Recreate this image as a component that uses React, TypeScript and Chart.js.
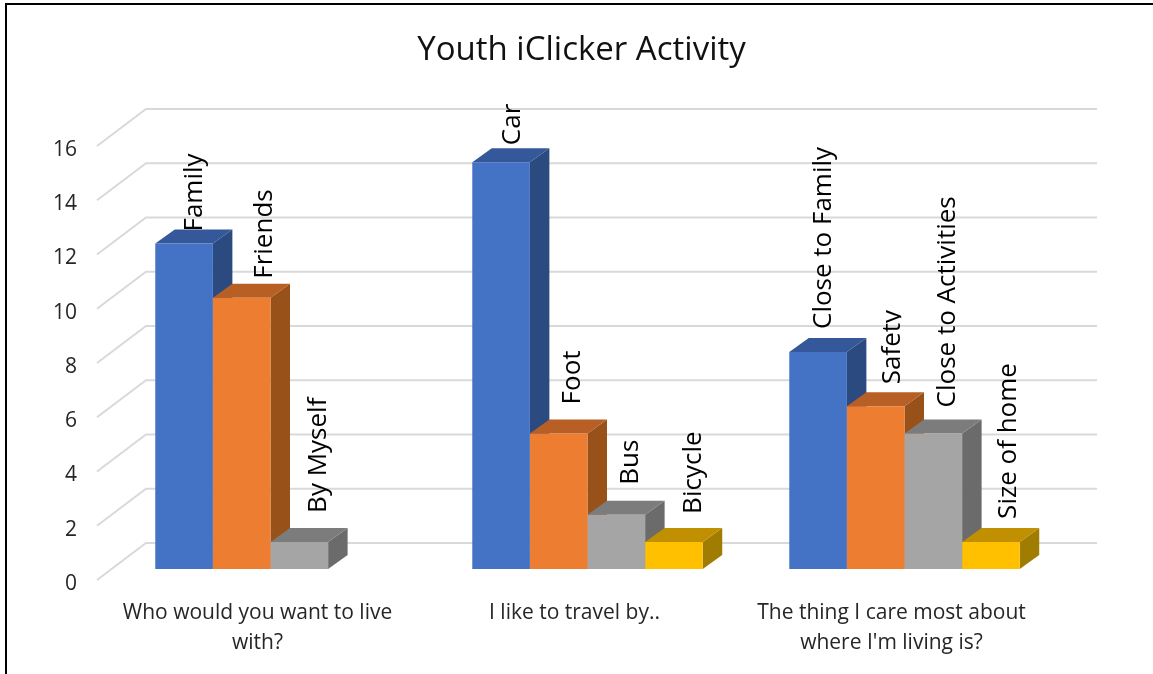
import React, { useEffect, useRef } from "react";
import { Chart, registerables } from "chart.js";

Chart.register(...registerables);

const categories = [
  ["Who would you want to live", "with?"],
  ["I like to travel by.."],
  ["The thing I care most about", "where I'm living is?"],
];
const firstChoice = [12, 15, 8];
const secondChoice = [10, 5, 6];
const thirdChoice = [1, 2, 5];
const fourthChoice = [null, 1, 1];
const firstNames = ["Family", "Car", "Close to Family"];
const secondNames = ["Friends", "Foot", "Safety"];
const thirdNames = ["By Myself", "Bus", "Close to Activities"];
const fourthNames = [null, "Bicycle", "Size of home"];

const valueSets = [firstChoice, secondChoice, thirdChoice, fourthChoice];
const nameSets = [firstNames, secondNames, thirdNames, fourthNames];
const fronts = ["#4472C4", "#ED7D31", "#A5A5A5", "#FFC000"];
const tops = ["#34589A", "#B85F26", "#7C7C7C", "#C09000"];
const sides = ["#2B4A80", "#985219", "#6B6B6B", "#A07D00"];

const FONT = '"Open Sans", sans-serif';
const DEPTH_X = 19.5;
const DEPTH_Y = 14;
// Label placement relative to each bar's top centre [dx, gap], by series then category.
const labelNudge = [
  [[11, 12], [12, 17], [6, 23]],
  [[23, 19], [14, 29], [16.5, 22]],
  [[19, 29], [14, 30], [14, 26]],
  [null, [20, 28], [18, 23]],
];
// In the reference the descender of this one label is cut off by its box.
const clippedLabel = "Safety";

const depthPlugin = {
  id: "depth",
  beforeDatasetsDraw(chart: any) {
    const { ctx, chartArea, scales } = chart;
    const y = scales.y;
    ctx.save();
    ctx.strokeStyle = "#D9D9D9";
    ctx.lineWidth = 2;
    y.ticks.forEach((t: any) => {
      const p = y.getPixelForValue(t.value);
      ctx.beginPath();
      ctx.moveTo(chartArea.left - 15, p + 11);
      ctx.lineTo(chartArea.left + 34, p - 26);
      ctx.lineTo(chartArea.right + 34, p - 26);
      ctx.stroke();
    });
    categories.forEach((_, j) => {
      valueSets.forEach((_v, i) => {
        const bar = chart.getDatasetMeta(i).data[j];
        if (valueSets[i][j] == null || !bar) return;
        const half = bar.width / 2;
        const l = bar.x - half;
        const r = bar.x + half;
        ctx.fillStyle = sides[i];
        ctx.beginPath();
        ctx.moveTo(r, bar.y);
        ctx.lineTo(r + DEPTH_X, bar.y - DEPTH_Y);
        ctx.lineTo(r + DEPTH_X, bar.base - DEPTH_Y);
        ctx.lineTo(r, bar.base);
        ctx.closePath();
        ctx.fill();
        ctx.fillStyle = tops[i];
        ctx.beginPath();
        ctx.moveTo(l, bar.y);
        ctx.lineTo(l + DEPTH_X, bar.y - DEPTH_Y);
        ctx.lineTo(r + DEPTH_X, bar.y - DEPTH_Y);
        ctx.lineTo(r, bar.y);
        ctx.closePath();
        ctx.fill();
      });
    });
    ctx.restore();
  },
  afterDatasetsDraw(chart: any) {
    const { ctx } = chart;
    ctx.save();
    ctx.fillStyle = "#000000";
    ctx.font = `26px ${FONT}`;
    ctx.textAlign = "left";
    ctx.textBaseline = "middle";
    nameSets.forEach((names, i) => {
      names.forEach((name, j) => {
        const bar = chart.getDatasetMeta(i).data[j];
        const nudge = labelNudge[i][j];
        if (!name || !bar || !nudge) return;
        ctx.save();
        ctx.translate(bar.x + nudge[0], bar.y - nudge[1]);
        ctx.rotate(-Math.PI / 2);
        if (name === clippedLabel) {
          ctx.beginPath();
          ctx.rect(-5, -40, 200, 49);
          ctx.clip();
        }
        ctx.fillText(name, 0, 0);
        ctx.restore();
      });
    });
    ctx.restore();
  },
};

export default function App() {
  const ref = useRef<HTMLCanvasElement>(null);
  useEffect(() => {
    const chart = new Chart(ref.current as HTMLCanvasElement, {
      type: "bar",
      data: {
        labels: categories as any,
        datasets: valueSets.map((data, i) => ({
          label: `Choice ${i + 1}`,
          data: data as any,
          backgroundColor: fronts[i],
          barPercentage: 1,
          categoryPercentage: 0.727,
        })),
      },
      options: {
        animation: false,
        responsive: false,
        layout: { padding: { left: 10, right: 0, top: 0, bottom: 0 } },
        plugins: {
          legend: { display: false },
          tooltip: { enabled: false },
          title: {
            display: true,
            text: "Youth iClicker Activity",
            color: "#111111",
            font: { family: FONT, size: 33, weight: "normal", lineHeight: 1.2 },
            padding: { top: 31, bottom: 64.4 },
          },
        },
        scales: {
          x: {
            border: { display: false },
            grid: { display: false, drawTicks: false },
            afterFit: (s: any) => { s.height = 105; },
            ticks: {
              color: "#262626",
              font: { family: FONT, size: 21, lineHeight: 1.43 },
              padding: 29,
              labelOffset: -13,
              maxRotation: 0,
              minRotation: 0,
              autoSkip: false,
            },
          },
          y: {
            min: 0,
            max: 16,
            border: { display: false },
            grid: { display: false, drawTicks: false },
            afterFit: (s: any) => { s.width = 102; },
            ticks: {
              stepSize: 2,
              color: "#262626",
              font: { family: FONT, size: 21 },
              padding: 35,
              labelOffset: 15,
            },
          },
          rightGutter: {
            type: "linear",
            axis: "y",
            position: "right",
            border: { display: false },
            grid: { display: false, drawOnChartArea: false, drawTicks: false },
            ticks: { display: false },
            afterFit: (s: any) => { s.width = 90; },
          },
        },
      },
      plugins: [depthPlugin],
    } as any);
    return () => chart.destroy();
  }, []);
  return (
    <div style={{ position: "absolute", left: 0, top: 0, width: 1153, height: 674, background: "#fff", overflow: "hidden" }}>
      <canvas ref={ref} width={1153} height={674} style={{ display: "block" }} />
      <div style={{ position: "absolute", left: 5, top: 3, right: 0, height: 2, background: "#000" }} />
      <div style={{ position: "absolute", left: 5, top: 3, bottom: 0, width: 2, background: "#000" }} />
    </div>
  );
}
